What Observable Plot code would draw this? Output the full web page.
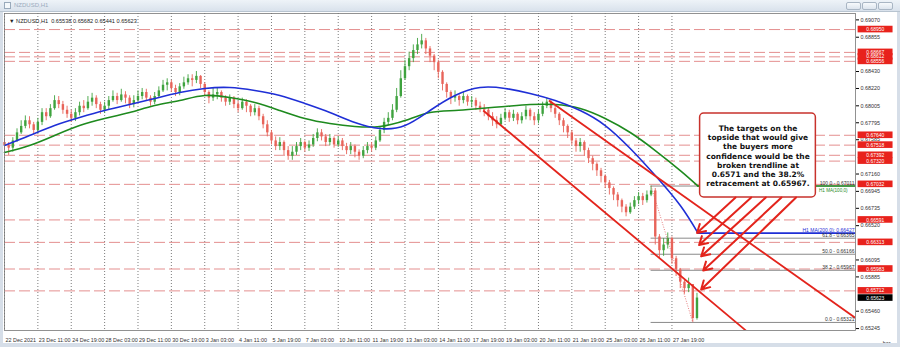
<!DOCTYPE html>
<html><head><meta charset="utf-8">
<script src="https://cdn.jsdelivr.net/npm/d3@7"></script>
<script src="https://cdn.jsdelivr.net/npm/@observablehq/plot@0.6"></script>
<style>
body{margin:0;background:#fff;}
#win{position:relative;width:900px;height:347px;overflow:hidden;background:#fff;font-family:"Liberation Sans",sans-serif;}
#chart{position:absolute;left:0;top:0;}
#titlebar{position:absolute;left:0;top:0;width:900px;height:12px;background:linear-gradient(#eef3f8,#d9e2ec);border-bottom:1px solid #b8c4d0;box-sizing:border-box;}
#titlebar .t{position:absolute;left:14px;top:2px;font-size:6px;color:#9aabbd;}
#titlebar .ic{position:absolute;left:4px;top:2px;width:7px;height:7px;border:1px solid #9ab;box-sizing:border-box;background:#f4f8fb;}
.btn{position:absolute;top:2px;width:15px;height:8px;border:1px solid #a9b6c4;border-radius:2px;background:linear-gradient(#f7fafc,#dde5ee);box-sizing:border-box;}
#lb{position:absolute;left:0;top:12px;width:3px;height:335px;background:#d6dee8;}
#rb{position:absolute;right:0;top:12px;width:3px;height:335px;background:#d6dee8;}
#bb{position:absolute;left:0;bottom:0;width:900px;height:4px;background:#d6dee8;}
#hdr{position:absolute;left:9px;top:18px;font-size:5.6px;color:#222;white-space:pre;}
</style></head>
<body>
<div id="win">
<div id="chart"></div>
<div id="titlebar"><div class="ic"></div><div class="t">NZDUSD,H1</div>
<div class="btn" style="left:846px"></div><div class="btn" style="left:862px"></div><div class="btn" style="left:878px"></div></div>
<div id="lb"></div><div id="rb"></div><div id="bb"></div>
<div id="hdr">▼ NZDUSD,H1  0.65538 0.65682 0.65441 0.65623</div>
</div>
<script>
// ---- data ----
const xLabels = ["22 Dec 2021","23 Dec 11:00","24 Dec 19:00","28 Dec 03:00","29 Dec 11:00","30 Dec 19:00","3 Jan 03:00","4 Jan 11:00","5 Jan 19:00","7 Jan 03:00","10 Jan 11:00","11 Jan 19:00","13 Jan 03:00","14 Jan 11:00","17 Jan 19:00","19 Jan 03:00","20 Jan 11:00","21 Jan 19:00","25 Jan 03:00","26 Jan 11:00","27 Jan 19:00"];
const xLabelBars = [0,32,64,96,128,160,192,224,256,288,320,352,384,416,448,480,512,544,576,608,640];
const yTicks = [0.69070,0.68855,0.68430,0.68220,0.68005,0.67795,0.67585,0.67160,0.66945,0.66735,0.66520,0.66095,0.65885,0.65460,0.65245];
const levels = [0.68950,0.68667,0.68612,0.68556,0.67640,0.67518,0.67392,0.67320,0.67032,0.66591,0.66313,0.65983,0.65712];
const lastPrice = 0.65623;
// candles, one every 4 H1 bars
const closes = [0.6751,0.6748,0.6757,0.6767,0.6775,0.6782,0.6777,0.6770,0.6780,0.6792,
0.6787,0.6797,0.6807,0.6802,0.6795,0.6790,0.6785,0.6792,0.6800,0.6797,
0.6805,0.6810,0.6802,0.6795,0.6800,0.6807,0.6812,0.6807,0.6814,0.6810,
0.6802,0.6807,0.6812,0.6817,0.6810,0.6805,0.6812,0.6819,0.6826,0.6829,
0.6822,0.6817,0.6824,0.6829,0.6834,0.6832,0.6837,0.6827,0.6817,0.6810,
0.6814,0.6817,0.6810,0.6805,0.6810,0.6802,0.6797,0.6805,0.6800,0.6792,
0.6797,0.6787,0.6777,0.6767,0.6757,0.6750,0.6755,0.6745,0.6738,0.6743,
0.6750,0.6755,0.6748,0.6752,0.6760,0.6767,0.6762,0.6755,0.6760,0.6752,
0.6757,0.6750,0.6745,0.6750,0.6743,0.6738,0.6745,0.6750,0.6748,0.6757,
0.6770,0.6780,0.6785,0.6795,0.6812,0.6834,0.6849,0.6859,0.6869,0.6876,
0.6881,0.6871,0.6862,0.6854,0.6842,0.6827,0.6817,0.6810,0.6812,0.6807,
0.6812,0.6805,0.6807,0.6800,0.6797,0.6795,0.6787,0.6782,0.6777,0.6785,
0.6792,0.6785,0.6790,0.6782,0.6787,0.6795,0.6787,0.6782,0.6790,0.6800,
0.6805,0.6797,0.6790,0.6782,0.6775,0.6767,0.6757,0.6750,0.6755,0.6745,
0.6735,0.6728,0.6720,0.6713,0.6705,0.6698,0.6690,0.6683,0.6675,0.6668,
0.6675,0.6683,0.6688,0.6683,0.6690,0.6695,0.6638,0.6621,0.6628,0.6636,
0.6611,0.6597,0.6582,0.6574,0.6579,0.6537,0.65623];
const highs = [0.6760,0.6755,0.6761,0.6772,0.6782,0.6788,0.6787,0.6780,0.6785,0.6797,
0.6797,0.6802,0.6813,0.6812,0.6806,0.6800,0.6795,0.6797,0.6805,0.6807,
0.6812,0.6816,0.6813,0.6805,0.6805,0.6812,0.6819,0.6816,0.6821,0.6818,
0.6813,0.6813,0.6819,0.6822,0.6821,0.6813,0.6817,0.6824,0.6832,0.6834,
0.6832,0.6826,0.6828,0.6836,0.6839,0.6839,0.6843,0.6838,0.6829,0.6819,
0.6822,0.6822,0.6819,0.6813,0.6814,0.6812,0.6806,0.6810,0.6808,0.6802,
0.6802,0.6800,0.6790,0.6782,0.6770,0.6762,0.6761,0.6757,0.6750,0.6750,
0.6755,0.6760,0.6757,0.6757,0.6765,0.6772,0.6771,0.6765,0.6765,0.6762,
0.6762,0.6760,0.6754,0.6755,0.6752,0.6746,0.6750,0.6755,0.6755,0.6762,
0.6775,0.6785,0.6792,0.6802,0.6822,0.6844,0.6857,0.6867,0.6876,0.6884,
0.6889,0.6884,0.6874,0.6864,0.6857,0.6844,0.6829,0.6819,0.6819,0.6814,
0.6817,0.6814,0.6812,0.6810,0.6805,0.6802,0.6797,0.6792,0.6787,0.6790,
0.6797,0.6795,0.6795,0.6792,0.6792,0.6800,0.6797,0.6792,0.6795,0.6805,
0.6810,0.6807,0.6800,0.6792,0.6785,0.6777,0.6770,0.6760,0.6760,0.6757,
0.6748,0.6738,0.6730,0.6723,0.6715,0.6708,0.6700,0.6693,0.6685,0.6678,
0.6680,0.6688,0.6693,0.6692,0.6695,0.67011,0.6698,0.6641,0.6636,0.6643,
0.6638,0.6614,0.6599,0.6584,0.6587,0.6579,0.65682];
const lows = [0.6745,0.6739,0.6743,0.6755,0.6765,0.6772,0.6772,0.6765,0.6766,0.6776,
0.6782,0.6785,0.6795,0.6797,0.6790,0.6785,0.6780,0.6781,0.6788,0.6792,
0.6795,0.6800,0.6797,0.6790,0.6791,0.6796,0.6805,0.6802,0.6805,0.6803,
0.6797,0.6798,0.6805,0.6808,0.6806,0.6800,0.6802,0.6810,0.6817,0.6819,
0.6817,0.6812,0.6813,0.6821,0.6826,0.6824,0.6828,0.6822,0.6812,0.6803,
0.6806,0.6808,0.6805,0.6800,0.6801,0.6797,0.6792,0.6795,0.6792,0.6787,
0.6788,0.6782,0.6772,0.6762,0.6752,0.6745,0.6745,0.6739,0.6733,0.6733,
0.6739,0.6745,0.6743,0.6744,0.6749,0.6756,0.6757,0.6750,0.6751,0.6748,
0.6749,0.6745,0.6740,0.6740,0.6736,0.6733,0.6735,0.6741,0.6743,0.6745,
0.6755,0.6766,0.6776,0.6782,0.6792,0.6810,0.6832,0.6844,0.6854,0.6864,
0.6871,0.6864,0.6854,0.6844,0.6834,0.6819,0.6810,0.6802,0.6805,0.6800,
0.6803,0.6800,0.6798,0.6795,0.6792,0.6787,0.6782,0.6775,0.6772,0.6775,
0.6782,0.6780,0.6781,0.6777,0.6778,0.6783,0.6782,0.6776,0.6778,0.6787,
0.6797,0.6792,0.6785,0.6776,0.6767,0.6760,0.6751,0.6743,0.6743,0.6738,
0.6729,0.6720,0.6713,0.6705,0.6698,0.6690,0.6683,0.6675,0.6668,0.6663,
0.6666,0.6672,0.6678,0.6677,0.6680,0.6688,0.6628,0.6611,0.6614,0.6623,
0.6604,0.6589,0.6574,0.6567,0.6569,0.65321,0.6535];
const firstOpen = 0.6755;
// moving averages sampled every 24 bars
const maBars = [0,24,48,72,96,120,144,168,192,216,240,264,288,312,336,360,384,408,432,456,480,504,528,552,576,600,624,648,665];
const ma100 = [0.67426,0.67513,0.67637,0.67761,0.67848,0.67922,0.68009,0.68071,0.68133,0.68108,0.68046,0.67947,0.67848,0.67786,0.67749,0.67749,0.67823,0.67922,0.67947,0.67972,0.67997,0.68021,0.68021,0.67972,0.67848,0.67674,0.67451,0.67203,0.67011];
const ma200 = [0.67513,0.67637,0.67761,0.67860,0.67947,0.68021,0.68096,0.68170,0.68220,0.68232,0.68195,0.68133,0.68034,0.67922,0.67798,0.67724,0.67761,0.67947,0.68133,0.68232,0.68220,0.68158,0.68071,0.67947,0.67761,0.67476,0.67141,0.66769,0.66427];
const fibLevels = [0.67011,0.66365,0.66166,0.65967,0.65321];
const fibNames = ["100.0","61.8","50.0","38.2","0.0"];
const fibStartBar = 620;
// trend lines [bar1, price1, bar2, price2]
const trendUpper = [522, 0.68071, 816, 0.65376];
const trendLower = [459, 0.67947, 711, 0.65220];
const fibDiag = [620, 0.67011, 660, 0.65321];
const note = ["The targets on the","topside that would give","the buyers more","confidence would be the","broken trendline at","0.6571 and the 38.2%","retracement at 0.65967."];
const arrowsFrom = [[701,0.66869],[716,0.66869],[730,0.66869],[745,0.66869],[759,0.66869]];
const arrowsTo = [[664,0.66430],[666,0.66280],[668,0.66140],[670,0.65964],[668,0.65730]];

// ---- chart ----
const XMAX = 816;
const rows = closes.map((c,i)=>{const o = i===0?firstOpen:closes[i-1]; return {bar:i*4, open:o, close:c, high:Math.max(highs[i],o,c), low:Math.min(lows[i],o,c)};});
const maRows = maBars.map((b,i)=>({bar:b, m100:ma100[i], m200:ma200[i]}));
const hh = 0.00041;
const green = "#1e8a1e", blue = "#1f2fd6", red = "#e3241c";
const up = "#3fa33f", dn = "#e8645a";
const fmt = d=>d.toFixed(5);
const F = "Liberation Sans, Arial, sans-serif";

const chart = Plot.plot({
  width:900, height:347,
  marginTop:13, marginBottom:17, marginLeft:4, marginRight:45,
  style:{background:"#fff", fontFamily:F, overflow:"visible"},
  x:{domain:[0,XMAX]},
  y:{domain:[0.65221,0.69149]},
  marks:[
    Plot.ruleX(xLabelBars, {stroke:"#444", strokeDasharray:"1,2", strokeWidth:0.7}),
    Plot.ruleY(levels, {stroke:"#e48f8f", strokeDasharray:"11,4", strokeWidth:1}),
    Plot.ruleY(fibLevels, {x1:fibStartBar, x2:XMAX, stroke:"#8a8a8a", strokeWidth:1}),
    Plot.ruleX(rows, {x:"bar", y1:"low", y2:"high", stroke:d=>d.close>=d.open?up:dn, strokeWidth:0.9}),
    Plot.ruleX(rows, {x:"bar", y1:"open", y2:"close", stroke:d=>d.close>=d.open?up:dn, strokeWidth:2.4}),
    Plot.line(maRows, {x:"bar", y:"m100", stroke:green, strokeWidth:1.6, curve:"natural"}),
    Plot.line(maRows, {x:"bar", y:"m200", stroke:blue, strokeWidth:1.6, curve:"natural"}),
    Plot.ruleY([ma100[ma100.length-1]], {x1:maBars[maBars.length-1], x2:XMAX, stroke:green, strokeWidth:1.6}),
    Plot.ruleY([ma200[ma200.length-1]], {x1:maBars[maBars.length-1], x2:XMAX, stroke:blue, strokeWidth:1.6}),
    Plot.link([fibDiag], {x1:d=>d[0], y1:d=>d[1], x2:d=>d[2], y2:d=>d[3], stroke:"#e06060", strokeDasharray:"1,1.5", strokeWidth:0.8}),
    Plot.link([trendUpper, trendLower], {x1:d=>d[0], y1:d=>d[1], x2:d=>d[2], y2:d=>d[3], stroke:red, strokeWidth:1.8, clip:true}),
    Plot.rect([0], {x1:667, x2:778, y1:0.66869, y2:0.67910, fill:"#fff", stroke:"#c8322c", strokeWidth:1.5, rx:4}),
    Plot.text([ma100[ma100.length-1]], {x:XMAX-35, y:d=>d, text:["H1 MA(100,0)"], textAnchor:"start", dy:4.5, fontSize:4.6, fill:green}),
    Plot.text(fibLevels, {x:XMAX-1, y:d=>d, text:(d,i)=>fibNames[i]+" - "+fmt(d), textAnchor:"end", dy:-3, fontSize:5, fill:"#333"}),
    Plot.text([ma200[ma200.length-1]], {x:XMAX-1, y:d=>d, text:d=>"H1 MA(200,0): "+fmt(d), textAnchor:"end", dy:-3, fontSize:5, fill:blue}),
    Plot.text([note.join("\n")], {x:722.5, y:0.67389, text:d=>d, fontSize:7.5, fontWeight:"bold", lineHeight:1.24, fill:"#111", fontFamily:"DejaVu Sans, sans-serif"}),
    Plot.arrow(arrowsFrom, {x1:d=>d[0], y1:d=>d[1], x2:(d,i)=>arrowsTo[i][0], y2:(d,i)=>arrowsTo[i][1], stroke:red, strokeWidth:2, headLength:7}),
    Plot.frame({stroke:"#777", strokeWidth:0.8}),
    Plot.axisY(yTicks, {anchor:"right", tickSize:3, tickFormat:fmt, fontSize:5.4, fill:"#333", tickPadding:2}),
    Plot.axisX(xLabelBars, {anchor:"bottom", tickSize:0, tickFormat:(d,i)=>xLabels[i], textAnchor:"start", dx:1, dy:-1, fontSize:5.4, fill:"#333"}),
    Plot.rect(levels, {x1:XMAX+2.5, x2:XMAX+36, y1:d=>d-hh, y2:d=>d+hh, fill:"#e8221c"}),
    Plot.text(levels, {x:XMAX+19, y:d=>d, text:fmt, fill:"#fff", fontSize:5}),
    Plot.rect([lastPrice], {x1:XMAX+2.5, x2:XMAX+36, y1:d=>d-hh, y2:d=>d+hh, fill:"#000"}),
    Plot.text([lastPrice], {x:XMAX+19, y:d=>d, text:fmt, fill:"#fff", fontSize:5})
  ]
});
document.getElementById("chart").appendChild(chart);
</script>
</body></html>
